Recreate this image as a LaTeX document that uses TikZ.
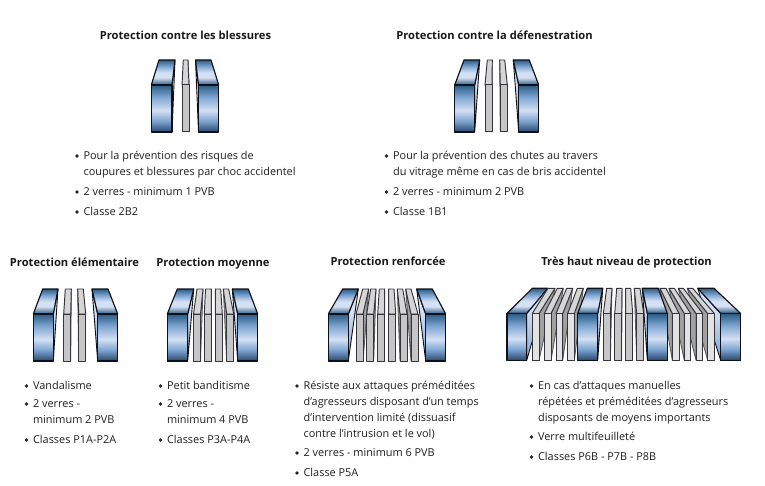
\documentclass[tikz,border=0pt]{standalone}
\usepackage{fontspec}
\setmainfont{Open Sans}
\definecolor{bd}{HTML}{2A5C84}
\definecolor{bm}{HTML}{7FA6D2}
\definecolor{bl}{HTML}{D4E0F4}
\definecolor{bb}{HTML}{27466F}
\definecolor{gf}{HTML}{C6C6C6}
\definecolor{gt}{HTML}{D6D6D6}
\definecolor{gs}{HTML}{A0A0A0}
\definecolor{gl}{HTML}{E2E2E2}
\definecolor{edgec}{HTML}{101018}
\pgfdeclareverticalshading{bluefront}{100bp}{color(0bp)=(bb);color(25bp)=(bb);color(37bp)=(bm);color(48bp)=(bl);color(62bp)=(bm);color(75bp)=(bd);color(100bp)=(bd)}
\pgfdeclareverticalshading{bluetop}{100bp}{color(0bp)=(bd);color(25bp)=(bd);color(40bp)=(bl);color(50bp)=(bl);color(62bp)=(bm);color(75bp)=(bd);color(100bp)=(bd)}
\pgfdeclareverticalshading{blueside}{100bp}{color(0bp)=(bd);color(25bp)=(bm);color(60bp)=(bl);color(75bp)=(bl);color(100bp)=(bl)}
\tikzset{
  panebf/.style={shading=bluefront,draw=edgec,line width=1.15pt,line join=round},
  panebt/.style={shading=bluetop,draw=edgec,line width=1.15pt,line join=round},
  panebs/.style={shading=blueside,draw=edgec,line width=.9pt,line join=round},
  panegf/.style={fill=gf,draw=edgec!85!white,line width=1pt,line join=round},
  panegl/.style={fill=gl,draw=edgec!85!white,line width=1pt,line join=round},
  panegt/.style={fill=gt,draw=edgec!85!white,line width=.95pt,line join=round},
  panegs/.style={fill=gs,draw=edgec!70!white,line width=.85pt,line join=round},
  head/.style={font=\fontsize{11.15}{13}\selectfont\bfseries,inner sep=0pt,anchor=base,text=black!90},
  item/.style={font=\fontsize{10.9}{13}\selectfont,inner sep=0pt,anchor=base west,text=black!88},
  dot/.style={circle,fill=black!85,inner sep=0pt,minimum size=3.8pt},
}
\newcommand{\bluePane}[5]{%
  \path[panebs] (#5,\yF) -- (\ifdim #5pt=#1pt #3\else #4\fi,\yT) -- (#5,\yB) -- cycle;
  \path[panebt] (#1,\yF) -- (#3,\yT) -- (#4,\yT) -- (#2,\yF) -- cycle;
  \path[panebf] (#1,\yF) rectangle (#2,\yB);
}
\newcommand{\grayPane}[5]{%
  \path[panegs] (#5,\yF) -- (\ifdim #5pt=#1pt #3\else #4\fi,\yT) -- (#5,\yB) -- cycle;
  \path[panegt] (#1,\yF) -- (#3,\yT) -- (#4,\yT) -- (#2,\yF) -- cycle;
  \path[\gstyle] (#1,\yF) rectangle (#2,\yB);
}
\newcount\tn
\newcommand{\li}[3]{\global\advance\tn by 1 \node[item] (t\the\tn) at (#1,#2+4.2) {#3};}
\newcommand{\bu}[3]{\global\advance\tn by 1 \node[dot] (t\the\tn) at (#1+2,#2+1) {};\li{#1+8.4}{#2}{#3}}
\newcommand{\hd}[3]{\global\advance\tn by 1 \node[head] (t\the\tn) at (#1,#2+4.2) {#3};}
\begin{document}
\begin{tikzpicture}[x=1pt,y=-1pt]
\useasboundingbox (0,0) rectangle (765,486);
\def\gstyle{panegf}
% A
\def\yT{60}\def\yF{85}\def\yB{132}
\bluePane{151.3}{172}{159}{175}{172}
\grayPane{182}{189}{183.3}{188}{189}
\bluePane{198.5}{218.7}{195.5}{211}{198.5}
% B
\bluePane{454.7}{474.7}{464}{479.7}{474.7}
\grayPane{485}{492}{487.3}{492.3}{492}
\grayPane{500.3}{507.3}{499.7}{504.7}{500.3}
\bluePane{518.7}{538.7}{513.3}{529.3}{518.7}
% C
\def\yT{289}\def\yF{314}\def\yB{361}
\bluePane{33.3}{53.3}{42.7}{58}{53.3}
\grayPane{63.7}{70.7}{65.3}{71.3}{70.7}
\grayPane{78.7}{85.7}{77.7}{83.3}{78.7}
\bluePane{97.7}{117.7}{92}{108}{97.7}
% D
\bluePane{167.3}{187.7}{177.3}{193.7}{187.7}
\grayPane{193.5}{200.5}{197}{203}{200.5}
\grayPane{204.3}{211.3}{205.5}{211.3}{211.3}
\grayPane{226.7}{233.7}{223.3}{228.7}{226.7}
\grayPane{215.3}{222.3}{215.3}{220.7}{215.3}
\bluePane{237.7}{257.7}{232.3}{248.3}{237.7}
% E
\bluePane{328.3}{348.3}{342.7}{358.3}{348.3}
\grayPane{356}{363}{362.7}{368.7}{363}
\grayPane{366.7}{373.7}{370.7}{376}{373.7}
\grayPane{377.7}{384.7}{379.3}{384.7}{384.7}
\bluePane{425.7}{445.7}{416.7}{432.3}{425.7}
\grayPane{411}{418}{405.7}{411}{411}
\grayPane{400}{407}{397.3}{402.7}{400}
\grayPane{388.7}{395.7}{388.7}{394}{388.7}
% F
\def\yT{288.3}\def\yF{313.5}\def\yB{360.3}
\def\gstyle{panegl}
\bluePane{507}{526.7}{532.3}{547.7}{526.7}
\grayPane{532.3}{539}{548}{555}{539}
\grayPane{544.3}{551}{557.3}{563.3}{551}
\grayPane{556}{562.7}{566.7}{572.7}{562.7}
\grayPane{567.7}{574.3}{577.3}{583.3}{574.3}
\bluePane{577.7}{597.7}{587.3}{602.7}{597.7}
\def\gstyle{panegf}
\grayPane{603.3}{610.3}{606.7}{612}{610.3}
\grayPane{614.7}{621.7}{616.7}{622}{621.7}
\grayPane{636.7}{643.7}{634.3}{640}{636.7}
\grayPane{625.7}{632.7}{625.7}{630.7}{625.7}
\def\gstyle{panegl}
\bluePane{720.7}{740.7}{697.7}{714}{720.7}
\grayPane{707.7}{714.3}{687.3}{692.7}{707.7}
\grayPane{696}{702.7}{678.3}{683.3}{696}
\grayPane{684.3}{690.7}{669}{674.3}{684.3}
\grayPane{672.3}{679}{660}{666}{672.3}
\bluePane{647.3}{667.3}{642.3}{658.3}{647.3}
% headings
\hd{185.5}{35}{Protection contre les blessures}
\hd{494.5}{35}{Protection contre la défenestration}
\hd{74.5}{262}{Protection élémentaire}
\hd{213}{262}{Protection moyenne}
\hd{388}{261}{Protection renforcée}
\hd{626.5}{261}{Très haut niveau de protection}
% lists
\bu{75}{155}{Pour la prévention des risques de}
\li{83.4}{171}{coupures et blessures par choc accidentel}
\bu{75}{191}{2 verres - minimum 1 PVB}
\bu{75}{211}{Classe 2B2}
\bu{384.5}{155}{Pour la prévention des chutes au travers}
\li{392.9}{171}{du vitrage même en cas de bris accidentel}
\bu{384.5}{191}{2 verres - minimum 2 PVB}
\bu{384.5}{211}{Classe 1B1}
\bu{24.5}{385}{Vandalisme}
\bu{24.5}{403}{2 verres -}
\li{32.9}{419}{minimum 2 PVB}
\bu{24.5}{439}{Classes P1A-P2A}
\bu{158.5}{385}{Petit banditisme}
\bu{158.5}{403}{2 verres -}
\li{166.9}{419}{minimum 4 PVB}
\bu{158.5}{439}{Classes P3A-P4A}
\bu{295}{385}{Résiste aux attaques préméditées}
\li{303.4}{401}{d’agresseurs disposant d’un temps}
\li{303.4}{417}{d’intervention limité (dissuasif}
\li{303.4}{433}{contre l’intrusion et le vol)}
\bu{295}{452}{2 verres - minimum 6 PVB}
\bu{295}{472}{Classe P5A}
\bu{529.5}{385}{En cas d’attaques manuelles}
\li{537.9}{401}{répétées et préméditées d’agresseurs}
\li{537.9}{417}{disposants de moyens importants}
\bu{529.5}{436}{Verre multifeuilleté}
\bu{529.5}{456}{Classes P6B - P7B - P8B}
\end{tikzpicture}
\end{document}
